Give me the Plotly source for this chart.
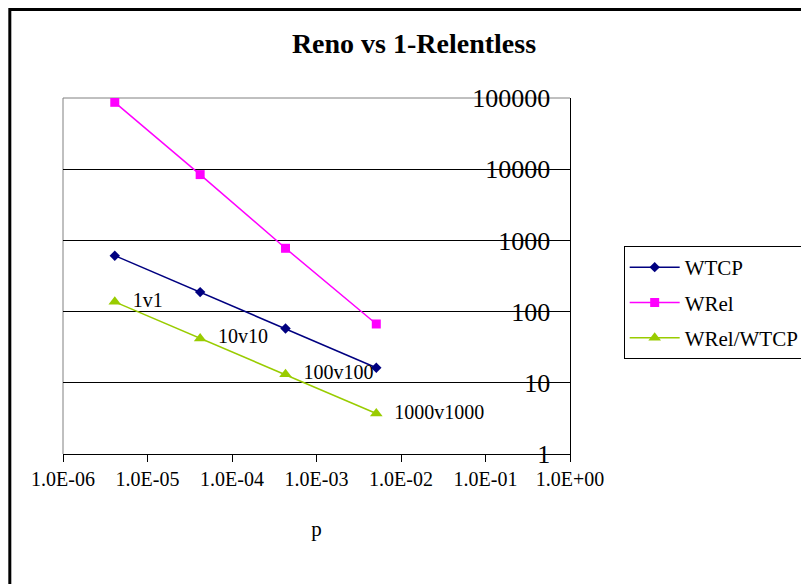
import plotly.graph_objects as go

# ---- data ----
p_values = [4.1e-6, 4.2e-5, 4.3e-4, 5.1e-3]
wtcp = [610, 188, 58, 16.3]
wrel = [87000, 8400, 775, 67]
ratio = [137, 42, 13.2, 3.7]
point_labels = ["1v1", "10v10", "100v100", "1000v1000"]
series_names = ["WTCP", "WRel", "WRel/WTCP"]
x_tickvals = [1e-6, 1e-5, 1e-4, 1e-3, 1e-2, 1e-1, 1e0]
x_ticktext = ["1.0E-06", "1.0E-05", "1.0E-04", "1.0E-03", "1.0E-02", "1.0E-01", "1.0E+00"]
y_tickvals = [1, 10, 100, 1000, 10000, 100000]
y_ticktext = ["1", "10", "100", "1000", "10000", "100000"]

SERIF = "Liberation Serif, Times New Roman, serif"

# The page body keeps its default 8px margin, so figure coords = window coords - 8.
OFF = 8
PL, PR, PT, PB = 63 - OFF, 573 - OFF, 98 - OFF, 454 - OFF  # plot area in figure px
PW, PH = PR - PL, PB - PT

fig = go.Figure()
fig.add_trace(go.Scatter(
    x=p_values, y=wtcp, name=series_names[0], mode="lines+markers",
    line=dict(color="#000080", width=1.5),
    marker=dict(symbol="diamond", size=8, color="#000080"),
    legendgroup="a"))
fig.add_trace(go.Scatter(
    x=p_values, y=wrel, name=series_names[1], mode="lines+markers",
    line=dict(color="#FF00FF", width=1.5),
    marker=dict(symbol="square", size=9, color="#FF00FF"),
    legendgroup="b"))
fig.add_trace(go.Scatter(
    x=p_values, y=ratio, name=series_names[2], mode="lines+markers+text",
    text=["\u00a0\u00a0" + t for t in point_labels], textposition="middle right",
    textfont=dict(family=SERIF, size=20, color="black"),
    line=dict(color="#99CC00", width=1.5),
    marker=dict(symbol="triangle-up", size=11, color="#99CC00"),
    legendgroup="c"))

fig.update_layout(
    width=809, height=584,
    margin=dict(l=PL, r=809 - PR, t=PT, b=584 - PB),
    paper_bgcolor="white", plot_bgcolor="white",
    font=dict(family=SERIF, color="black"),
    title=dict(text="<b>Reno vs 1-Relentless</b>", x=(414 - OFF) / 809, xanchor="center",
               xref="container",
               y=1 - (43 - OFF) / 584, yanchor="middle", yref="container",
               font=dict(family=SERIF, size=28, color="black")),
    showlegend=True,
    legend=dict(x=(627 - 63) / 510, y=(454 - 246) / 356, xanchor="left", yanchor="top",
                bordercolor="black", borderwidth=1, bgcolor="white",
                font=dict(family=SERIF, size=21, color="black"),
                tracegroupgap=5, itemwidth=50),
    xaxis=dict(type="log", range=[-6, 0], tickvals=x_tickvals, ticktext=x_ticktext,
               showgrid=False, zeroline=False, showline=True, linecolor="black", linewidth=1,
               ticks="outside", ticklen=7, tickcolor="black", ticklabeloverflow="allow",
               tickfont=dict(family=SERIF, size=20, color="black"),
               title=dict(text="p", font=dict(family=SERIF, size=21, color="black"), standoff=32)),
    yaxis=dict(type="log", range=[0, 5], tickvals=y_tickvals, ticktext=y_ticktext,
               side="right", ticks="inside", ticklen=10, tickcolor="black",
               ticklabelposition="inside", ticklabelstandoff=12, ticklabeloverflow="allow",
               showgrid=True, gridcolor="black", gridwidth=1,
               zeroline=False, showline=True, linecolor="black", linewidth=1,
               tickfont=dict(family=SERIF, size=26, color="black")),
    shapes=[
        dict(type="line", xref="paper", yref="paper", x0=0, x1=0, y0=0, y1=1,
             line=dict(color="#808080", width=1), layer="between"),
        dict(type="line", xref="paper", yref="paper", x0=0, x1=1, y0=1, y1=1,
             line=dict(color="#808080", width=1), layer="between"),
        dict(type="rect", xref="paper", yref="paper",
             x0=(1.5 - PL) / PW, x1=(830 - PL) / PW,
             y0=(PB - 620) / PH, y1=(PB - 1.5) / PH,
             line=dict(color="black", width=3), fillcolor="rgba(0,0,0,0)", layer="above"),
    ],
)

fig.write_html("out.html", config={"displayModeBar": False})
